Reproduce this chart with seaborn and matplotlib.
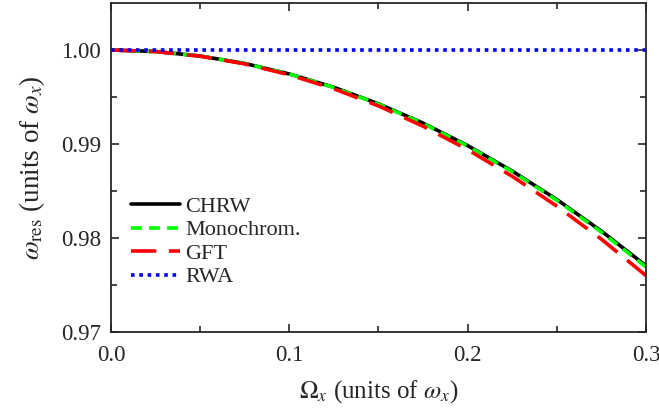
import matplotlib
matplotlib.use('Agg')
import matplotlib.pyplot as plt
import numpy as np
import pandas as pd
import seaborn as sns

# values
omega_x = [0.0, 0.025, 0.05, 0.075, 0.1, 0.125, 0.15, 0.175, 0.2, 0.225, 0.25, 0.275, 0.3]
chrw = [1.0, 0.99984, 0.99936, 0.99857, 0.99745, 0.99603, 0.99428, 0.99222, 0.98983, 0.98712, 0.98409, 0.98073, 0.97705]
mono = [1.0, 0.99984, 0.99936, 0.99856, 0.99744, 0.99601, 0.99425, 0.99218, 0.98978, 0.98706, 0.98401, 0.98063, 0.97692]
gft = [1.0, 0.99983, 0.99934, 0.99852, 0.99736, 0.99587, 0.99405, 0.99189, 0.98940, 0.98656, 0.98339, 0.97987, 0.97600]
rwa = [1.0] * 13

series = {'CHRW': chrw, 'Monochrom.': mono, 'GFT': gft, 'RWA': rwa}
colors = {'CHRW': 'black', 'Monochrom.': '#00ff00', 'GFT': 'red', 'RWA': 'blue'}
styles = {'CHRW': '-', 'Monochrom.': (0, (3, 2)), 'GFT': (0, (7, 3.5)), 'RWA': (0, (1, 1.3))}

sns.set_style('ticks')
plt.rcParams['font.family'] = ['Liberation Serif', 'DejaVu Serif']
plt.rcParams['mathtext.fontset'] = 'stix'

fig = plt.figure(figsize=(6.59, 4.16), dpi=100)
ax = fig.add_axes([0.1684, 0.2019, 0.8119, 0.7909])

for name, vals in series.items():
    df = pd.DataFrame({'x': omega_x, 'y': vals})
    sns.lineplot(data=df, x='x', y='y', ax=ax, color=colors[name], lw=2.6,
                 linestyle=styles[name], label=name)

ax.set_xlim(0, 0.3)
ax.set_ylim(0.97, 1.005)
ax.set_xticks([0.0, 0.1, 0.2, 0.3])
ax.set_xticks([0.05, 0.15, 0.25], minor=True)
ax.set_yticks([0.97, 0.98, 0.99, 1.00])
ax.set_yticks([0.975, 0.985, 0.995], minor=True)
ax.set_xticklabels(['0.0', '0.1', '0.2', '0.3'])
ax.set_yticklabels(['0.97', '0.98', '0.99', '1.00'])
ax.tick_params(which='both', direction='in', top=True, right=True, labelsize=16.5, width=1.2)
ax.tick_params(which='major', length=6)
ax.tick_params(axis='x', which='major', pad=9)
ax.tick_params(axis='y', which='major', pad=7)
ax.tick_params(which='minor', length=4)
for sp in ax.spines.values():
    sp.set_linewidth(1.3)

ax.set_xlabel(r'$\Omega_{x}$ (units of $\omega_{x}$)', fontsize=18, labelpad=9)
ax.set_ylabel(r'$\omega_{\rm res}$ (units of $\omega_{x}$)', fontsize=19.5, labelpad=10)

ax.legend(loc='lower left', bbox_to_anchor=(0.0, 0.075), frameon=False, fontsize=16,
          handlelength=2.2, handletextpad=0.25, labelspacing=0.13)

fig.savefig('out.png', dpi=100)
